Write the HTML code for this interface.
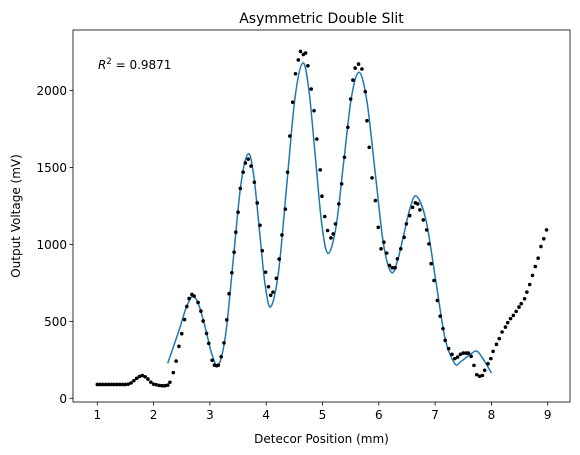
<!DOCTYPE html>
<html><head><meta charset="utf-8"><style>
body{margin:0;background:#fff}
svg{display:block;font-family:"DejaVu Sans","Liberation Sans",sans-serif}
</style></head><body>
<svg id="c" width="580" height="455"></svg>
<script>
const dataX=[1.0,1.05,1.1,1.15,1.2,1.25,1.3,1.35,1.4,1.45,1.5,1.55,1.6,1.65,1.7,1.75,1.8,1.85,1.9,1.95,2.0,2.05,2.1,2.15,2.2,2.25,
2.29,2.35,2.40,2.45,2.50,2.55,2.59,2.63,2.68,2.72,2.79,2.84,2.88,2.94,2.98,3.04,3.08,3.12,3.15,3.20,3.25,3.30,3.34,3.39,3.43,3.46,3.50,3.54,3.59,3.63,3.68,3.73,3.79,3.84,3.89,3.93,3.99,4.04,4.08,4.12,4.18,4.23,4.28,4.34,4.38,4.42,4.47,4.52,4.57,4.61,4.66,4.70,4.74,
4.80,4.85,4.90,4.96,4.99,5.04,5.09,5.15,5.19,5.23,5.29,5.34,5.39,5.45,5.50,5.54,5.58,5.64,5.70,5.76,5.79,5.83,5.88,5.94,5.99,6.04,6.09,6.14,6.19,6.24,6.29,6.33,6.39,6.45,6.49,6.55,6.60,6.65,6.69,6.73,6.79,6.85,6.89,6.93,6.98,7.04,7.09,7.14,7.18,7.24,7.30,7.35,7.40,7.45,7.50,7.55,7.59,7.64,7.69,7.74,7.79,7.84,7.88,7.94,7.99,8.03,8.09,8.14,8.19,8.25,8.29,8.34,8.39,8.44,8.49,8.53,8.59,8.63,8.68,8.73,8.78,8.83,8.88,8.93,8.98];
const dataY=[90,90,90,90,90,90,90,90,90,90,90,92,100,115,130,142,148,140,125,105,92,88,84,82,82,85,
104,167,242,338,420,512,597,649,675,665,623,567,503,422,357,247,215,212,215,270,360,510,680,816,950,1080,1210,1365,1470,1530,1555,1510,1405,1270,1125,960,820,725,670,690,780,905,1062,1230,1470,1705,1925,2110,2200,2255,2235,2245,2162,
2011,1870,1686,1485,1314,1182,1091,1043,1069,1134,1264,1394,1567,1762,1946,2069,2147,2173,2141,1994,1805,1632,1433,1286,1112,972,1015,944,864,849,849,907,972,1047,1134,1188,1242,1271,1264,1225,1160,1095,1004,875,766,636,534,453,377,323,286,258,268,286,294,294,294,273,214,154,143,148,182,225,258,305,351,388,431,463,492,518,539,565,593,615,647,690,740,799,857,911,987,1037,1095];
const fitX=[2.25,2.45,2.58,2.7,2.81,2.93,3.04,3.15,3.28,3.415,3.55,3.68,3.78,3.88,3.98,4.08,4.22,4.365,4.51,4.65,4.76,4.875,4.99,5.1,5.24,5.375,5.51,5.65,5.79,5.935,6.08,6.22,6.33,6.445,6.56,6.67,6.84,7.01,7.18,7.35,7.45,7.55,7.65,7.75,7.88,8.0];
const fitY=[227,440,590,665,599,440,281,215,416,902,1389,1590,1445,1092,740,595,826,1387,1949,2180,1999,1561,1123,942,1114,1531,1948,2120,1930,1470,1010,820,892,1067,1242,1314,1155,770,384,225,237,265,293,305,240,164];
const xTicks=[1,2,3,4,5,6,7,8,9];
const yTicks=[0,500,1000,1500,2000];
const NS="http://www.w3.org/2000/svg";
const svg=document.getElementById('c');
const L=73,R=570,T=30,B=402;
const sx=v=>97.3+(v-1)*56.3;
const sy=v=>398.3-v*0.1538;
function mk(t,a,p){const e=document.createElementNS(NS,t);for(const k in a)e.setAttribute(k,a[k]);(p||svg).appendChild(e);return e;}
const pts=fitX.map((x,i)=>[sx(x),sy(fitY[i])]);
let d=`M${pts[0][0]},${pts[0][1]}`;
for(let i=0;i<pts.length-1;i++){const p0=pts[i-1]||pts[i],p1=pts[i],p2=pts[i+1],p3=pts[i+2]||p2;
d+=` C${p1[0]+(p2[0]-p0[0])/6},${p1[1]+(p2[1]-p0[1])/6} ${p2[0]-(p3[0]-p1[0])/6},${p2[1]-(p3[1]-p1[1])/6} ${p2[0]},${p2[1]}`;}
const fl=mk('path',{d:d,fill:'none',stroke:'#1f77b4','stroke-width':1.5});


dataX.forEach((x,i)=>{const c=mk('circle',{cx:sx(x),cy:sy(dataY[i]),r:1.8,fill:'#000'});

});
const fr=mk('rect',{x:L,y:T,width:R-L,height:B-T,fill:'none',stroke:'#000','stroke-width':0.8});


xTicks.forEach(v=>{mk('line',{x1:sx(v),x2:sx(v),y1:B,y2:B+3.5,stroke:'#000','stroke-width':0.8});
const t=mk('text',{x:sx(v),y:B+17,'text-anchor':'middle','font-size':12});t.textContent=v;

});
yTicks.forEach(v=>{mk('line',{x1:L-3.5,x2:L,y1:sy(v),y2:sy(v),stroke:'#000','stroke-width':0.8});
const t=mk('text',{x:L-6,y:sy(v)+4.5,'text-anchor':'end','font-size':12});t.textContent=v;

});
const tt=mk('text',{x:(L+R)/2,y:23,'text-anchor':'middle','font-size':14});tt.textContent='Asymmetric Double Slit';


const xl=mk('text',{x:(L+R)/2,y:443,'text-anchor':'middle','font-size':12});xl.textContent='Detecor Position (mm)';


const yl=mk('text',{x:0,y:0,'text-anchor':'middle','font-size':12,transform:`translate(20,${(T+B)/2}) rotate(-90)`});yl.textContent='Output Voltage (mV)';


const r2=mk('text',{x:98,y:69,'font-size':12});
r2.innerHTML='<tspan font-style="italic">R</tspan><tspan dy="-5" font-size="8.5">2</tspan><tspan dy="5"> = 0.9871</tspan>';


</script>
</body></html>
